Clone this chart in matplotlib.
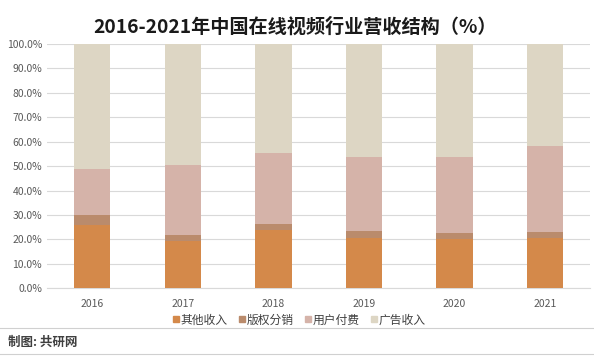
import numpy as np
import matplotlib.pyplot as plt
from matplotlib.lines import Line2D

plt.rcParams['font.family'] = ['Noto Sans CJK SC', 'DejaVu Sans']

# data (%)
years = ['2016', '2017', '2018', '2019', '2020', '2021']
other = [25.9, 19.4, 23.9, 20.5, 20.2, 20.5]      # 其他收入
copyright_ = [4.1, 2.6, 2.6, 3.1, 2.6, 2.7]       # 版权分销
user_pay = [18.8, 28.5, 29.0, 30.3, 31.1, 35.2]   # 用户付费
ads = [100 - a - b - c for a, b, c in zip(other, copyright_, user_pay)]  # 广告收入

series = [other, copyright_, user_pay, ads]
names = ['其他收入', '版权分销', '用户付费', '广告收入']
colors = ['#D4894A', '#BA8B6C', '#D5B3A9', '#DDD6C4']

fig = plt.figure(figsize=(5.94, 3.6), dpi=100)
ax = fig.add_axes([0.079, 0.199, 0.915, 0.679])

x = np.arange(len(years))
bottom = np.zeros(len(years))
for vals, c in zip(series, colors):
    ax.bar(x, vals, width=0.4, bottom=bottom, color=c, zorder=3)
    bottom += np.array(vals)

ax.set_xlim(-0.5, len(years) - 0.5)
ax.set_ylim(0, 100)
ax.set_yticks(np.arange(0, 101, 10))
ax.set_yticklabels([f'{v:.1f}%' for v in np.arange(0, 101, 10)])
ax.set_xticks(x)
ax.set_xticklabels(years)
ax.tick_params(axis='both', length=0, labelsize=7.5, colors='#595959')
ax.tick_params(axis='x', pad=8)
ax.grid(axis='y', color='#D9D9D9', linewidth=0.8, zorder=0)
for s in ['top', 'right', 'left']:
    ax.spines[s].set_visible(False)
ax.spines['bottom'].set_color('#D9D9D9')

fig.text(0.497, 1 - 27 / 360, '2016-2021年中国在线视频行业营收结构（%）', ha='center', va='center',
         fontsize=13.8, fontweight='bold', color='#1a1a1a')

handles = [Line2D([0], [0], marker='s', linestyle='', markersize=5,
                  markerfacecolor=c, markeredgecolor=c) for c in colors]
fig.legend(handles, names, loc='center', bbox_to_anchor=(0.5, 1 - 320 / 360), ncol=4,
           frameon=False, fontsize=8.5, handletextpad=-0.2, columnspacing=0.6,
           handlelength=1.2, labelcolor='#404040')

fig.add_artist(Line2D([0, 1], [1 - 328 / 360] * 2, color='#D0D0D0', linewidth=0.8))
fig.add_artist(Line2D([0, 1], [1 - 354 / 360] * 2, color='#D0D0D0', linewidth=0.8))
fig.text(0.013, 1 - 342 / 360, '制图: 共研网', ha='left', va='center',
         fontsize=9, fontweight='bold', color='#404040')

fig.savefig('out.png', dpi=100)
